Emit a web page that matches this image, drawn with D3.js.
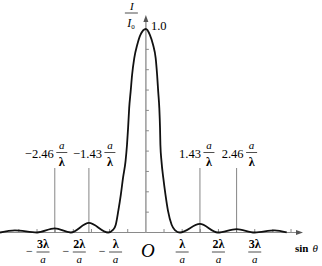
<!DOCTYPE html>
<html>
<head>
<meta charset="utf-8">
<script src="https://cdn.jsdelivr.net/npm/d3@7"></script>
<style>
  body { margin: 0; background: #fff; }
  svg { display: block; }
</style>
</head>
<body>
<div id="chart"></div>
<script>
// intensity curve (x in units of lambda/a, I/I0)
const curveU = [-4.02, -3.61, -3.00, -2.51, -2.07, -1.57, -1.04, -0.90, -0.83, -0.76, -0.69, -0.63,
                -0.56, -0.52, -0.49, -0.46, -0.42, -0.38, -0.32, -0.24, -0.15, 0,
                0.11, 0.20, 0.27, 0.31, 0.34, 0.37, 0.39, 0.40, 0.43, 0.48, 0.54, 0.61, 0.71, 0.80,
                0.94, 1.49, 1.98, 2.50, 3.00, 3.55, 3.88];
const curveI = [0.0, 0.010, 0.0, 0.020, 0.0, 0.047, 0.0, 0.014, 0.038, 0.106, 0.186, 0.268,
                0.351, 0.431, 0.514, 0.612, 0.692, 0.774, 0.857, 0.921, 0.971, 1.0,
                0.971, 0.921, 0.857, 0.774, 0.692, 0.612, 0.514, 0.431, 0.351, 0.268, 0.186, 0.106, 0.038, 0.012,
                0.0, 0.042, 0.0, 0.017, 0.0, 0.010, 0.0];

const xTicks = [-3.5, -3, -2.5, -2, -1.5, -1, -0.5, 0.5, 1, 1.5, 2, 2.5, 3, 3.5, 4];
const yTicks = [0.1, 0.2, 0.3, 0.4, 0.5, 0.6, 0.7, 0.8, 0.9];

const xLabelU = [-3, -2, -1, 1, 2, 3];
const xLabelNum = ["3λ", "2λ", "λ", "λ", "2λ", "3λ"];

const markerU = [-2.51, -1.57, 1.49, 2.50];
const markerText = ["−2.46", "−1.43", "1.43", "2.46"];
const markerDx = [7, 21, 9, 15];

const width = 322, height = 266;
const serif = "'Liberation Serif', 'DejaVu Serif', serif";
const axisColor = "#8a8a8a";
const ink = "#000";

const svg = d3.select("#chart").append("svg")
              .attr("width", width)
              .attr("height", height)
              .style("font-family", serif);

const x = d3.scaleLinear()
            .domain([-4.02, 4.33])
            .range([0, 303]);

const y = d3.scaleLinear()
            .domain([0, 1])
            .range([232.5, 29]);

const x0 = x(0), y0 = y(0);

// axes
svg.append("line")
   .attr("x1", 0).attr("x2", x(4.33) - 3)
   .attr("y1", y0).attr("y2", y0)
   .attr("stroke", axisColor)
   .attr("stroke-width", 1.2);

svg.append("path")
   .attr("d", `M${x(4.33)},${y0} l-7,-2.5 l0,5 Z`)
   .attr("fill", "#555");

svg.append("line")
   .attr("x1", x0).attr("x2", x0)
   .attr("y1", y0).attr("y2", 19)
   .attr("stroke", "#a0a0a0")
   .attr("stroke-width", 1.6);

svg.append("path")
   .attr("d", `M${x0},15 l-2.5,7 l5,0 Z`)
   .attr("fill", "#555");

svg.selectAll(".xtick")
   .data(xTicks)
   .enter().append("line")
   .attr("class", "xtick")
   .attr("x1", d => x(d)).attr("x2", d => x(d))
   .attr("y1", y0).attr("y2", y0 - 3.5)
   .attr("stroke", axisColor)
   .attr("stroke-width", 1);

svg.selectAll(".ytick")
   .data(yTicks)
   .enter().append("line")
   .attr("class", "ytick")
   .attr("x1", x0).attr("x2", x0 + 3)
   .attr("y1", d => y(d)).attr("y2", d => y(d))
   .attr("stroke", axisColor)
   .attr("stroke-width", 1);

// marker lines for the secondary maxima
svg.selectAll(".marker")
   .data(markerU)
   .enter().append("line")
   .attr("class", "marker")
   .attr("x1", d => x(d)).attr("x2", d => x(d))
   .attr("y1", 168).attr("y2", y0)
   .attr("stroke", "#666")
   .attr("stroke-width", 0.8);

// curve
const points = curveU.map((u, i) => [u, curveI[i]]);

const line = d3.line()
               .x(d => x(d[0]))
               .y(d => y(d[1]))
               .curve(d3.curveMonotoneX);

svg.append("path")
   .datum(points)
   .attr("d", line)
   .attr("fill", "none")
   .attr("stroke", "#111")
   .attr("stroke-width", 1.8);

// marker labels  "1.43 a/λ"
markerU.forEach((u, i) => {
    const fx = x(u) + markerDx[i];

    svg.append("text")
       .attr("x", fx - 8)
       .attr("y", 158)
       .attr("text-anchor", "end")
       .attr("font-size", 12.5)
       .attr("fill", ink)
       .text(markerText[i]);

    svg.append("text")
       .attr("x", fx)
       .attr("y", 149)
       .attr("text-anchor", "middle")
       .attr("font-size", 11)
       .attr("font-style", "italic")
       .attr("fill", ink)
       .text("a");

    svg.append("line")
       .attr("x1", fx - 5.5).attr("x2", fx + 5.5)
       .attr("y1", 152.5).attr("y2", 152.5)
       .attr("stroke", "#222")
       .attr("stroke-width", 0.8);

    svg.append("text")
       .attr("x", fx)
       .attr("y", 166)
       .attr("text-anchor", "middle")
       .attr("font-size", 12)
       .attr("font-weight", "bold")
       .attr("fill", ink)
       .text("λ");
});

// x labels  "-3λ/a"
xLabelU.forEach((u, i) => {
    const neg = u < 0;
    const fx = x(u) + (neg ? 6 : 0);

    if (neg) {
        svg.append("text")
           .attr("x", x(u) - 7.5)
           .attr("y", 255)
           .attr("text-anchor", "middle")
           .attr("font-size", 12)
           .attr("fill", ink)
           .text("−");
    }

    svg.append("text")
       .attr("x", fx)
       .attr("y", 248)
       .attr("text-anchor", "middle")
       .attr("font-size", 12)
       .attr("font-weight", "bold")
       .attr("fill", ink)
       .text(xLabelNum[i]);

    svg.append("line")
       .attr("x1", fx - 6.5).attr("x2", fx + 6.5)
       .attr("y1", 252).attr("y2", 252)
       .attr("stroke", "#222")
       .attr("stroke-width", 0.8);

    svg.append("text")
       .attr("x", fx)
       .attr("y", 262.5)
       .attr("text-anchor", "middle")
       .attr("font-size", 11)
       .attr("font-style", "italic")
       .attr("fill", ink)
       .text("a");
});

// origin
svg.append("text")
   .attr("x", x0 + 2)
   .attr("y", 257)
   .attr("text-anchor", "middle")
   .attr("font-size", 19)
   .attr("font-style", "italic")
   .attr("fill", ink)
   .text("O");

// y label  I / I0
svg.append("text")
   .attr("x", x0 - 14)
   .attr("y", 10)
   .attr("text-anchor", "middle")
   .attr("font-size", 11)
   .attr("font-style", "italic")
   .attr("fill", ink)
   .text("I");

svg.append("line")
   .attr("x1", x0 - 21).attr("x2", x0 - 8)
   .attr("y1", 13).attr("y2", 13)
   .attr("stroke", "#222")
   .attr("stroke-width", 0.8);

const i0 = svg.append("text")
              .attr("x", x0 - 15)
              .attr("y", 27)
              .attr("text-anchor", "middle")
              .attr("font-size", 12)
              .attr("font-style", "italic")
              .attr("fill", ink);
i0.append("tspan").text("I");
i0.append("tspan").attr("font-size", 7).attr("font-style", "normal").attr("dy", 2).text("0");

svg.append("text")
   .attr("x", x0 + 5)
   .attr("y", 30)
   .attr("font-size", 12.5)
   .attr("fill", ink)
   .text("1.0");

// sin theta
const st = svg.append("text")
              .attr("x", 295)
              .attr("y", 252)
              .attr("font-size", 11)
              .attr("fill", ink);
st.append("tspan").attr("font-weight", "bold").text("sin");
st.append("tspan").attr("dx", 4).attr("font-style", "italic").text("θ");
</script>
</body>
</html>
